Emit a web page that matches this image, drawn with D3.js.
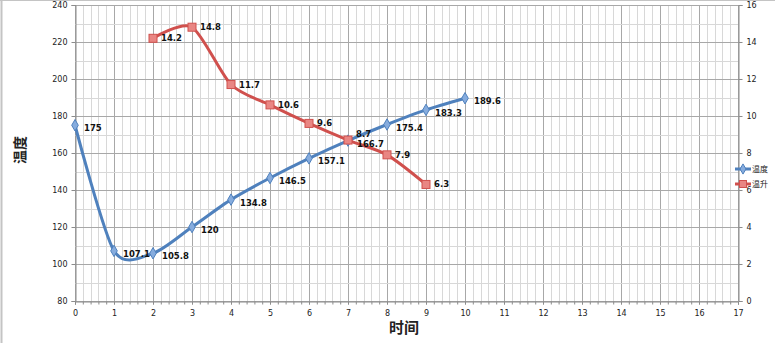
<!DOCTYPE html>
<html>
<head>
<meta charset="utf-8">
<script src="https://cdn.jsdelivr.net/npm/d3@7"></script>
<style>
  html, body { margin: 0; padding: 0; background: #fff; }
  svg { display: block; }
</style>
</head>
<body>
<svg id="chart" width="775" height="343"></svg>
<script>
// Time steps and measured series
const tempX = [0, 1, 2, 3, 4, 5, 6, 7, 8, 9, 10];
const tempValues = [175, 107.1, 105.8, 120, 134.8, 146.5, 157.1, 166.7, 175.4, 183.3, 189.6];
const riseX = [2, 3, 4, 5, 6, 7, 8, 9];
const riseValues = [14.2, 14.8, 11.7, 10.6, 9.6, 8.7, 7.9, 6.3];

const xTicks = d3.range(0, 18);
const yLeftTicks = [80, 100, 120, 140, 160, 180, 200, 220, 240];
const yRightTicks = [0, 2, 4, 6, 8, 10, 12, 14, 16];

const seriesNames = ["温度", "温升"];
const xTitle = "时间";
const yTitle = "温度";

const svg = d3.select("#chart");
const plotL = 75, plotR = 738, plotT = 5, plotB = 301;

const x = d3.scaleLinear().domain([0, 17]).range([plotL, plotR]);
const yL = d3.scaleLinear().domain([80, 240]).range([plotB, plotT]);
const yR = d3.scaleLinear().domain([0, 16]).range([plotB, plotT]);

const font = "'DejaVu Sans', Verdana, sans-serif";
const cjk = "'Noto Sans CJK SC', sans-serif";

// outer frame (top and left edges)
svg.append("line").attr("x1", 1.5).attr("x2", 1.5).attr("y1", 0).attr("y2", 343)
  .attr("stroke", "#c4c4c4").attr("stroke-width", 2);
svg.append("line").attr("x1", 0).attr("x2", 775).attr("y1", 0.5).attr("y2", 0.5)
  .attr("stroke", "#c4c4c4").attr("stroke-width", 1);

// gridlines
const grid = svg.append("g");
d3.range(0, 17.001, 0.2).forEach(v => {
  const major = Math.abs(v - Math.round(v)) < 1e-6;
  const px = Math.round(x(v)) + 0.5;
  grid.append("line").attr("x1", px).attr("x2", px).attr("y1", plotT).attr("y2", plotB)
    .attr("stroke", major ? "#a8a8a8" : "#d8d8d8").attr("stroke-width", 1);
});
d3.range(80, 241, 10).forEach(v => {
  const major = v % 20 === 0;
  const py = Math.round(yL(v)) + 0.5;
  grid.append("line").attr("x1", plotL).attr("x2", plotR).attr("y1", py).attr("y2", py)
    .attr("stroke", major ? "#a8a8a8" : "#d8d8d8").attr("stroke-width", 1);
});

// axes
const axisColor = "#8c8c8c";
const xAxis = svg.append("g").attr("transform", `translate(0,${Math.round(plotB) + 0.5})`)
  .call(d3.axisBottom(x).tickValues(xTicks).tickFormat(d3.format("d")).tickSize(3).tickPadding(6));
const xMinor = svg.append("g").attr("transform", `translate(0,${Math.round(plotB) + 0.5})`)
  .call(d3.axisBottom(x).tickValues(d3.range(0, 17.001, 0.2)).tickFormat("").tickSize(3));
xMinor.select(".domain").remove();
const yAxisL = svg.append("g").attr("transform", `translate(${Math.round(plotL) + 0.5},0)`)
  .call(d3.axisLeft(yL).tickValues(yLeftTicks).tickSize(4).tickPadding(4));
const yAxisR = svg.append("g").attr("transform", `translate(${Math.round(plotR) + 0.5},0)`)
  .call(d3.axisRight(yR).tickValues(yRightTicks).tickSize(4).tickPadding(4));

[xAxis, xMinor, yAxisL, yAxisR].forEach(g => {
  g.selectAll("path, line").attr("stroke", axisColor);
  g.selectAll("text").attr("font-family", font).attr("font-size", 8).attr("fill", "#222");
});

// axis titles
svg.append("text").attr("x", 404).attr("y", 333).attr("text-anchor", "middle")
  .attr("font-family", cjk).attr("font-size", 15).attr("font-weight", "bold").attr("fill", "#222")
  .text(xTitle);
svg.append("text").attr("transform", "translate(25,150) rotate(-90)").attr("text-anchor", "middle")
  .attr("font-family", cjk).attr("font-size", 14).attr("font-weight", "bold").attr("fill", "#222")
  .text(yTitle);

// series
const blue = "#4f81bd", red = "#d0504d";
const tempPts = tempX.map((d, i) => [x(d), yL(tempValues[i])]);
const risePts = riseX.map((d, i) => [x(d), yR(riseValues[i])]);
const smooth = d3.line().curve(d3.curveCardinal.tension(0.2));

svg.append("path").attr("d", smooth(tempPts)).attr("fill", "none")
  .attr("stroke", blue).attr("stroke-width", 3).attr("stroke-linecap", "round");
svg.append("path").attr("d", smooth(risePts)).attr("fill", "none")
  .attr("stroke", red).attr("stroke-width", 3).attr("stroke-linecap", "round");

// markers
svg.append("g").selectAll("path").data(tempPts).join("path")
  .attr("transform", d => `translate(${d[0]},${d[1]})`)
  .attr("d", d3.symbol(d3.symbolDiamond, 38)())
  .attr("fill", "#86acde").attr("stroke", blue).attr("stroke-width", 1);
svg.append("g").selectAll("rect").data(risePts).join("rect")
  .attr("x", d => d[0] - 4).attr("y", d => d[1] - 4).attr("width", 8).attr("height", 8)
  .attr("fill", "#e98683").attr("stroke", red).attr("stroke-width", 1);

// value labels
const lbl = svg.append("g").attr("font-family", font).attr("font-size", 8.5)
  .attr("font-weight", "bold").attr("fill", "#111");
tempPts.forEach((p, i) => {
  lbl.append("text").attr("x", p[0] + 9).attr("y", p[1] + 6).text(tempValues[i]);
});
risePts.forEach((p, i) => {
  // the 8.7 label shares its spot with 166.7, so lift it a little
  const dy = riseValues[i] === 8.7 ? -3 : 3;
  lbl.append("text").attr("x", p[0] + 8).attr("y", p[1] + dy).text(riseValues[i]);
});

// legend
const leg = svg.append("g");
[[blue, "#86acde", 169, "diamond"], [red, "#e98683", 184, "square"]].forEach((s, i) => {
  leg.append("line").attr("x1", 735).attr("x2", 751).attr("y1", s[2]).attr("y2", s[2])
    .attr("stroke", s[0]).attr("stroke-width", 3);
  if (s[3] === "diamond") {
    leg.append("path").attr("transform", `translate(743,${s[2]})`)
      .attr("d", d3.symbol(d3.symbolDiamond, 30)()).attr("fill", s[1]).attr("stroke", s[0]);
  } else {
    leg.append("rect").attr("x", 739.5).attr("y", s[2] - 3.5).attr("width", 7).attr("height", 7)
      .attr("fill", s[1]).attr("stroke", s[0]);
  }
  leg.append("text").attr("x", 752).attr("y", s[2] + 3).attr("font-family", cjk)
    .attr("font-size", 8).attr("fill", "#222").text(seriesNames[i]);
});
</script>
</body>
</html>
